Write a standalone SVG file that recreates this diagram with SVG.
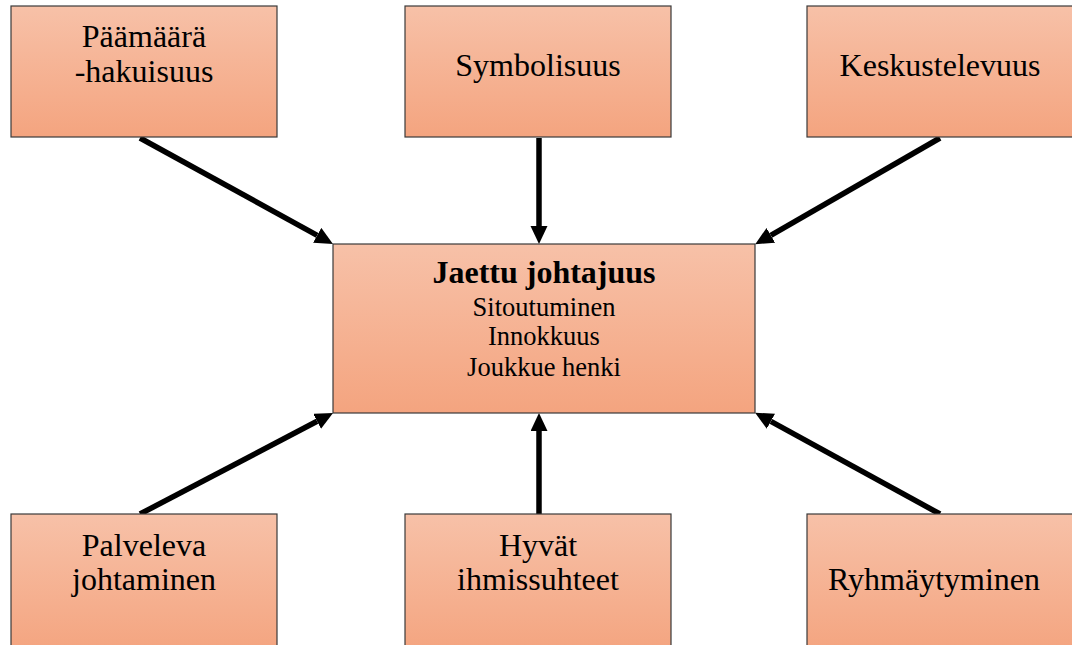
<svg xmlns="http://www.w3.org/2000/svg" width="1072" height="645" viewBox="0 0 1072 645">
  <defs>
    <linearGradient id="g" x1="0" y1="0" x2="0" y2="1">
      <stop offset="0" stop-color="#F7C1A8"/>
      <stop offset="1" stop-color="#F4A47F"/>
    </linearGradient>
    <marker id="ah" markerUnits="userSpaceOnUse" markerWidth="19" markerHeight="18" refX="0" refY="8.5" orient="auto">
      <path d="M0,0 L18,8.5 L0,17 z" fill="#000"/>
    </marker>
    <style>
      .box { fill: url(#g); stroke: #3a3a3a; stroke-width: 1.2; }
      .t { font-family: "Liberation Serif", "Times New Roman", serif; font-size: 32px; fill: #000; text-anchor: middle; }
      .c { font-family: "Liberation Serif", "Times New Roman", serif; font-size: 26.5px; fill: #000; text-anchor: middle; }
      .b { font-weight: bold; font-size: 32px; }
      .conn line { stroke: #000; stroke-width: 5.5; marker-end: url(#ah); }
    </style>
  </defs>
  <rect width="1072" height="645" fill="#fff"/>
  <g class="conn">
    <line x1="140" y1="138" x2="317.2" y2="235.3"/>
    <line x1="539" y1="138" x2="539" y2="226"/>
    <line x1="940" y1="138" x2="770.8" y2="235.3"/>
    <line x1="140" y1="514" x2="317.1" y2="421.3"/>
    <line x1="539" y1="514" x2="539" y2="431"/>
    <line x1="940" y1="514" x2="770.9" y2="421.3"/>
  </g>
  <g id="n1">
    <rect class="box" x="11" y="6" width="266" height="131"/>
    <text class="t" x="144" y="47">Päämäärä</text>
    <text class="t" x="144" y="82">-hakuisuus</text>
  </g>
  <g id="n2">
    <rect class="box" x="405" y="6" width="266" height="131"/>
    <text class="t" x="538" y="76">Symbolisuus</text>
  </g>
  <g id="n3">
    <rect class="box" x="807" y="6" width="266" height="131"/>
    <text class="t" x="940" y="76">Keskustelevuus</text>
  </g>
  <g id="center">
    <rect class="box" x="333" y="244" width="422" height="169"/>
    <text class="c b" x="544" y="283">Jaettu johtajuus</text>
    <text class="c" x="544" y="316">Sitoutuminen</text>
    <text class="c" x="544" y="345">Innokkuus</text>
    <text class="c" x="544" y="376">Joukkue henki</text>
  </g>
  <g id="n4">
    <rect class="box" x="11" y="514" width="266" height="140"/>
    <text class="t" x="144" y="556">Palveleva</text>
    <text class="t" x="144" y="590">johtaminen</text>
  </g>
  <g id="n5">
    <rect class="box" x="405" y="514" width="266" height="140"/>
    <text class="t" x="538" y="556">Hyvät</text>
    <text class="t" x="538" y="590">ihmissuhteet</text>
  </g>
  <g id="n6">
    <rect class="box" x="807" y="514" width="266" height="140"/>
    <text class="t" x="934" y="590">Ryhmäytyminen</text>
  </g>
</svg>
